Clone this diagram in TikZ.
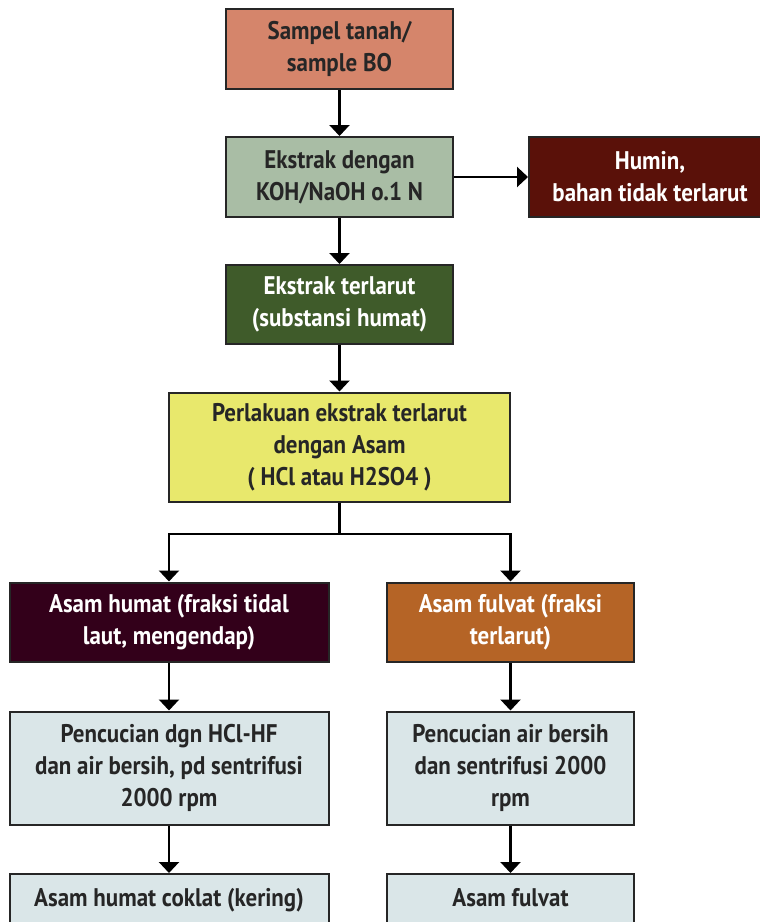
\documentclass[tikz,border=0pt]{standalone}
\usepackage{fontspec}
\setmainfont[FakeStretch=0.9,BoldFont={PT Sans Bold},BoldFeatures={FakeStretch=0.9}]{PT Sans}
\usetikzlibrary{arrows.meta}
\definecolor{salmon}{HTML}{D5856B}
\definecolor{sage}{HTML}{A9BDA5}
\definecolor{humin}{HTML}{5A1109}
\definecolor{dgreen}{HTML}{3F5B2A}
\definecolor{yel}{HTML}{E8E86C}
\definecolor{plum}{HTML}{33001A}
\definecolor{rust}{HTML}{B56426}
\definecolor{pale}{HTML}{DAE6E8}
\definecolor{txt}{HTML}{262626}
\tikzset{
  box/.style={draw=black!85, line width=2pt, rectangle, align=center, inner sep=0pt,
    font=\fontsize{25.5}{32}\selectfont\bfseries, text=txt},
  light/.style={box, text=txt},
  darkb/.style={box, text=white},
  arr/.style={line width=2.2pt, -{Triangle[width=20pt,length=11pt]}},
  ln/.style={line width=2.2pt}
}
\begin{document}
\begin{tikzpicture}[x=1pt,y=-1pt]
\useasboundingbox (0,0) rectangle (760,922);
\clip (0,0) rectangle (760,922);
\node[light, fill=salmon, minimum width=227pt, minimum height=80pt] (b1) at (339.5,49) {Sampel tanah/\\sample BO};
\node[light, fill=sage, minimum width=227pt, minimum height=80pt] (b2) at (339.5,177) {Ekstrak dengan\\KOH/NaOH o.1 N};
\node[darkb, fill=humin, minimum width=242pt, minimum height=80pt] (hu) at (650,177) {Humin,\\bahan tidak terlarut};
\node[darkb, fill=dgreen, minimum width=227pt, minimum height=79pt] (b3) at (339.5,304.5) {Ekstrak terlarut\\(substansi humat)};
\node[light, fill=yel, minimum width=341pt, minimum height=109pt] (b4) at (339.5,447) {Perlakuan ekstrak terlarut\\dengan Asam\\( HCl atau H2SO4 )};
\node[darkb, fill=plum, minimum width=319pt, minimum height=79pt] (b5) at (169,622) {Asam humat (fraksi tidal\\laut, mengendap)};
\node[darkb, fill=rust, minimum width=247pt, minimum height=79pt] (b6) at (510.5,622) {Asam fulvat (fraksi\\terlarut)};
\node[light, fill=pale, minimum width=319pt, minimum height=113pt] (b7) at (169,768) {Pencucian dgn HCl-HF\\dan air bersih, pd sentrifusi\\2000 rpm};
\node[light, fill=pale, minimum width=247pt, minimum height=113pt] (b8) at (510.5,768) {Pencucian air bersih\\dan sentrifusi 2000\\rpm};
\node[light, fill=pale, minimum width=319pt, minimum height=79pt, anchor=north] (b9) at (169,873) {Asam humat coklat (kering)\\\mbox{}};
\node[light, fill=pale, minimum width=247pt, minimum height=79pt, anchor=north] (b10) at (510.5,873) {Asam fulvat\\\mbox{}};
\draw[arr] (b1) -- (b2);
\draw[arr] (b2) -- (hu);
\draw[arr] (b2) -- (b3);
\draw[arr] (b3) -- (b4);
\coordinate (sp) at (339.5,534);
\draw[ln] (b4.south) -- (sp);
\draw[arr] (sp) -| (b5.north);
\draw[arr] (sp) -| (b6.north);
\draw[arr] (b5) -- (b7);
\draw[arr] (b6) -- (b8);
\draw[arr] (b7) -- (b9);
\draw[arr] (b8) -- (b10);
\end{tikzpicture}
\end{document}
